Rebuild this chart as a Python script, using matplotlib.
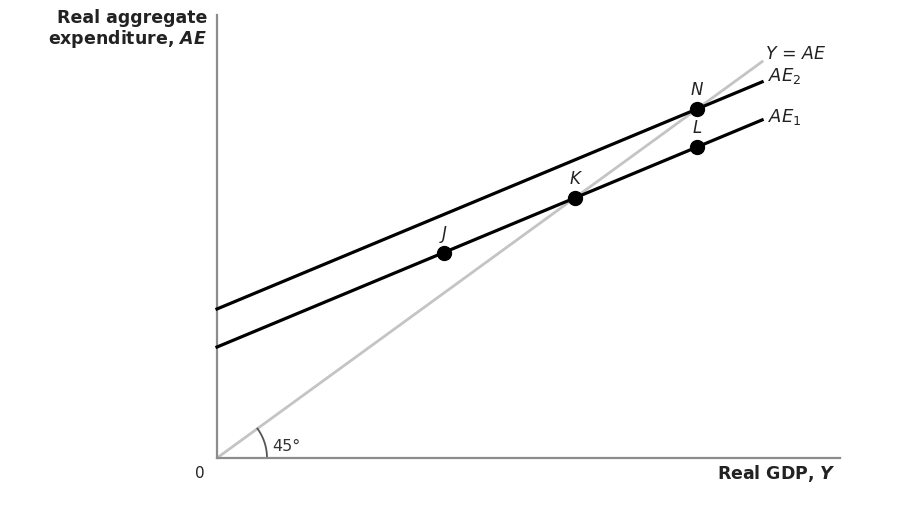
import numpy as np
import matplotlib.pyplot as plt

# data (real GDP Y on x, real aggregate expenditure AE on y)
y_end = 8.75
slope = 0.573
ae1_intercept = 2.45
ae2_intercept = 3.29
point_names = ['J', 'K', 'L', 'N']
point_y = [3.64, 5.74, 7.70, 7.70]
point_line = ['AE1', 'AE1', 'AE1', 'AE2']

plt.rcParams['font.family'] = ['DejaVu Sans']
plt.rcParams['mathtext.fontset'] = 'custom'
plt.rcParams['mathtext.it'] = 'DejaVu Sans:italic'
plt.rcParams['mathtext.rm'] = 'DejaVu Sans'
plt.rcParams['mathtext.bf'] = 'DejaVu Sans:italic:bold'

fig = plt.figure(figsize=(9.24, 5.09), dpi=100)
ax = fig.add_axes([217 / 924, 51 / 509, 623 / 924, 443 / 509])
ax.set_xlim(0, 10)
ax.set_ylim(0, 9.78)

for side in ['top', 'right']:
    ax.spines[side].set_visible(False)
for side in ['left', 'bottom']:
    ax.spines[side].set_color('#8c8c8c')
    ax.spines[side].set_linewidth(1.6)
ax.set_xticks([])
ax.set_yticks([])

yy = np.array([0, y_end])
ax.plot(yy, yy, color='#c4c4c4', lw=2.0, zorder=2)
ax.plot(yy, ae1_intercept + slope * yy, color='black', lw=2.3, zorder=3, clip_on=False)
ax.plot(yy, ae2_intercept + slope * yy, color='black', lw=2.3, zorder=3, clip_on=False)

intercepts = {'AE1': ae1_intercept, 'AE2': ae2_intercept}
for name, y, line in zip(point_names, point_y, point_line):
    ae = intercepts[line] + slope * y
    ax.plot(y, ae, 'o', color='black', ms=10, zorder=4)
    ax.annotate(name, (y, ae), xytext=(0, 7), textcoords='offset points',
                ha='center', va='bottom', fontsize=12, style='italic',
                color='#222222')

# line labels
ax.annotate('$Y$ = $AE$', (y_end, y_end), xytext=(2, -1), textcoords='offset points',
            ha='left', va='bottom', fontsize=12.5, color='#222222')
ax.annotate('$AE_2$', (y_end, ae2_intercept + slope * y_end), xytext=(4, -3),
            textcoords='offset points', ha='left', va='bottom', fontsize=13,
            color='#222222')
ax.annotate('$AE_1$', (y_end, ae1_intercept + slope * y_end), xytext=(4, -5),
            textcoords='offset points', ha='left', va='bottom', fontsize=13,
            color='#222222')

# 45 degree arc (circle of 50 px around the origin)
px_x = 62.3
px_y = 45.3
t = np.linspace(0, np.arctan(px_y / px_x), 40)
ax.plot(50 * np.cos(t) / px_x, 50 * np.sin(t) / px_y, color='#555555', lw=1.3)
ax.text(0.88, 0.25, '45°', fontsize=11.5, color='#333333', va='center')

fig.text(207 / 924, 1 - 9 / 509, 'Real aggregate\nexpenditure, $\\mathbf{AE}$',
         ha='right', va='top', fontsize=12.5, fontweight='bold', color='#222222',
         linespacing=1.05)
fig.text(200 / 924, 1 - 473 / 509, '0', ha='center', va='center', fontsize=11,
         color='#222222')
fig.text(836 / 924, 1 - 474 / 509, 'Real GDP, $\\mathbf{Y}$', ha='right',
         va='center', fontsize=12.5, fontweight='bold', color='#222222')

fig.savefig('out.png', dpi=100)
